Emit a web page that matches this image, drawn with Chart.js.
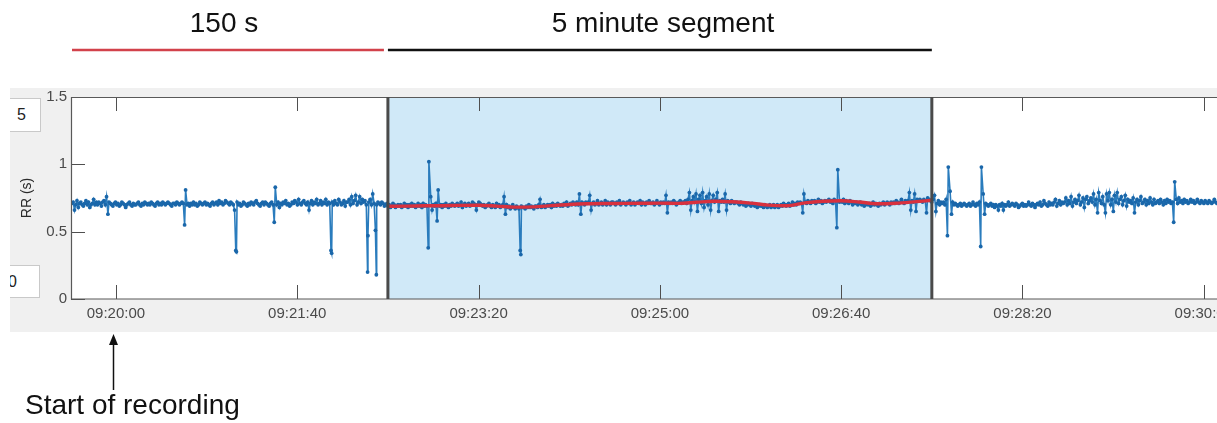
<!DOCTYPE html>
<html>
<head>
<meta charset="utf-8">
<title>RR tachogram – 5 minute segment</title>
<script src="https://cdn.jsdelivr.net/npm/chart.js@4.4.1/dist/chart.umd.min.js"></script>
<style>
  html, body { margin: 0; padding: 0; background: #fff; overflow: hidden; width: 1217px; height: 423px; }
  body { position: relative; font-family: "Liberation Sans", Arial, Helvetica, sans-serif; }
  #panel { position: absolute; left: 10px; top: 88px; width: 1207px; height: 244px; background: #f0f0f0; }
  #wrap { position: absolute; left: 0; top: 0; width: 1300px; height: 423px; }
  .note { position: absolute; font-size: 28px; line-height: 28px; color: #111; white-space: nowrap; }
  #clip { position: absolute; left: 10px; top: 0; width: 40px; height: 423px; overflow: hidden; }
  .limbox { position: absolute; box-sizing: border-box; background: #fff; border: 1px solid #c9c9c9;
            font-size: 16px; color: #222; white-space: nowrap; }
</style>
</head>
<body>
<div id="panel"></div>
<div id="clip">
  <div class="limbox" style="left:-6px; top:98px; width:37px; height:34px; line-height:32px; padding-left:12px;">5</div>
  <div class="limbox" style="left:-6px; top:265px; width:36px; height:33px; line-height:31px; padding-left:3px;">0</div>
</div>
<div id="wrap"><canvas id="rr" width="1300" height="423"></canvas></div>
<div class="note" style="left:124px; top:9px; width:200px; text-align:center;">150 s</div>
<div class="note" style="left:463px; top:9px; width:400px; text-align:center;">5 minute segment</div>
<div class="note" style="left:25px; top:391px;">Start of recording</div>

<script>
// ---- axis set-up -------------------------------------------------------
const xTickLabels = ['09:20:00', '09:21:40', '09:23:20', '09:25:00', '09:26:40', '09:28:20', '09:30:00'];
const yTickValues = [0, 0.5, 1, 1.5];
const yTickLabels = ['0', '0.5', '1', '1.5'];
const viewStart = '09:19:35.2';
const viewEnd = '09:30:31.0';

// ---- recording marks ----------------------------------------------------
const recordingStart = '09:20:00';
const segmentStart = '09:22:30';
const segmentEnd = '09:27:30';
const leadInStart = '09:19:35.7';

// RR intervals (s), beat by beat, before the analysed segment
const rrLeadIn = [
  .71,.72,.66,.70,.73,.68,.71,.72,.70,.69,
  .71,.73,.70,.72,.68,.70,.71,.74,.70,.72,
  .70,.72,.71,.69,.72,.73,.70,.76,.63,.72,
  .71,.70,.69,.71,.72,.70,.71,.69,.70,.72,
  .71,.70,.68,.70,.71,.72,.70,.69,.71,.70,
  .70,.71,.72,.70,.69,.71,.70,.72,.71,.70,
  .71,.70,.72,.71,.70,.69,.71,.72,.70,.71,
  .70,.72,.71,.70,.71,.72,.71,.70,.69,.71,
  .71,.70,.72,.71,.70,.71,.72,.71,.55,.81,.70,.71,
  .69,.71,.70,.72,.70,.71,.69,.70,.72,.71,
  .70,.71,.72,.70,.71,.70,.69,.71,.72,.70,
  .71,.72,.70,.73,.71,.72,.70,.71,.73,.72,
  .71,.70,.72,.71,.70,.66,.36,.35,.72,.70,
  .71,.69,.70,.72,.71,.70,.69,.71,.70,.72,
  .71,.70,.72,.73,.71,.70,.69,.71,.72,.70,
  .72,.71,.70,.69,.71,.72,.70,.57,.83,.70,.72,.68,
  .71,.70,.72,.71,.73,.70,.71,.69,.70,.72,
  .71,.73,.72,.70,.74,.71,.70,.72,.73,.71,
  .70,.72,.66,.71,.73,.70,.72,.71,.74,.70,
  .71,.73,.70,.72,.71,.74,.70,.72,.71,.36,.34,.72,.70,
  .73,.71,.70,.74,.72,.70,.71,.73,.69,.72,
  .72,.74,.70,.76,.71,.73,.77,.70,.72,.76,
  .71,.74,.72,.73,.70,.20,.47,.72,.74,.70,.78,.71,.51,.18,.70,.72,.71,
  .70,.72,.71,.69,.70,.71
];

// RR intervals (s) inside the 5 minute segment
const rrSegment = [
  .69,.70,.68,.69,.71,.70,.68,.69,.70,.69,
  .70,.68,.69,.71,.69,.70,.68,.70,.69,.71,
  .69,.70,.68,.69,.71,.69,.70,.68,.71,.69,.70,.69,.38,1.02,.76,.66,.70,.69,.71,.58,.81,.69,.70,
  .68,.70,.69,.71,.69,.68,.70,.69,.71,.70,
  .69,.70,.71,.69,.70,.72,.68,.70,.71,.69,
  .70,.71,.69,.70,.72,.71,.70,.66,.70,.72,
  .71,.70,.69,.70,.68,.69,.70,.71,.69,.68,
  .70,.69,.68,.71,.69,.70,.68,.69,.70,.76,.63,.70,
  .68,.69,.67,.68,.70,.68,.67,.69,.68,.67,.36,.33,.69,.68,
  .68,.67,.69,.68,.70,.68,.69,.68,.67,.69,
  .69,.68,.70,.74,.68,.69,.70,.68,.69,.70,
  .69,.70,.68,.71,.69,.70,.69,.71,.70,.69,
  .70,.69,.71,.70,.72,.69,.70,.71,.70,.72,
  .71,.70,.72,.70,.78,.63,.72,.71,.70,.72,
  .71,.72,.77,.66,.71,.72,.70,.71,.73,.70,
  .71,.72,.70,.71,.73,.70,.72,.71,.70,.72,
  .72,.71,.70,.72,.71,.73,.70,.71,.72,.71,
  .70,.72,.71,.73,.70,.71,.72,.70,.71,.72,
  .71,.73,.70,.72,.71,.70,.72,.71,.73,.71,
  .71,.72,.70,.71,.73,.71,.70,.72,.71,.72,.71,.77,.64,.72,.71,
  .72,.71,.73,.72,.70,.71,.72,.73,.71,.72,
  .72,.73,.71,.74,.79,.66,.73,.76,.72,.78,
  .65,.74,.77,.71,.79,.68,.73,.76,.70,.78,
  .66,.73,.77,.72,.74,.79,.65,.73,.72,.74,
  .72,.78,.66,.73,.72,.71,.73,.72,.71,.72,
  .72,.71,.70,.72,.71,.70,.71,.69,.70,.71,
  .70,.69,.71,.70,.69,.70,.68,.69,.70,.69,
  .69,.68,.70,.69,.68,.69,.70,.68,.69,.70,
  .68,.69,.70,.68,.69,.70,.69,.71,.70,.69,
  .70,.71,.69,.70,.72,.70,.71,.70,.72,.71,
  .72,.71,.64,.78,.72,.71,.73,.72,.71,.73,
  .72,.73,.71,.72,.74,.72,.73,.71,.72,.73,
  .72,.73,.74,.72,.73,.71,.74,.73,.53,.96,.72,.73,
  .72,.74,.71,.73,.72,.71,.73,.72,.70,.72,
  .71,.72,.70,.71,.72,.70,.71,.69,.70,.71,
  .70,.71,.69,.70,.72,.70,.71,.70,.69,.71,
  .70,.71,.72,.70,.71,.72,.71,.70,.72,.71,
  .72,.71,.73,.72,.71,.72,.74,.72,.71,.73,
  .72,.73,.79,.66,.73,.72,.78,.65,.74,.73,
  .74,.73,.72,.74,.73,.64,.75,.74,.73
];

// RR intervals (s) after the segment
const rrAfter = [
  .72,.74,.77,.65,.71,.73,.70,.72,.71,.72,.70,.74,.47,.98,.80,.63,.72,.70,
  .71,.70,.69,.70,.71,.69,.70,.71,.70,.69,
  .70,.71,.69,.70,.72,.70,.69,.71,.70,.72,.39,.98,.78,.63,.71,.70,
  .69,.70,.71,.69,.70,.68,.70,.69,.66,.70,
  .69,.71,.66,.70,.69,.70,.72,.69,.70,.71,
  .70,.69,.71,.70,.68,.69,.70,.71,.69,.70,
  .69,.70,.72,.70,.69,.71,.70,.68,.70,.71,
  .70,.72,.69,.70,.73,.71,.70,.69,.72,.70,
  .71,.70,.72,.74,.69,.71,.73,.70,.72,.71,
  .72,.75,.70,.73,.71,.76,.69,.72,.74,.71,
  .73,.77,.70,.72,.75,.68,.74,.76,.71,.73,
  .75,.72,.78,.70,.74,.64,.79,.73,.71,.76,
  .70,.64,.78,.73,.79,.70,.74,.65,.77,.72,
  .79,.71,.74,.76,.70,.73,.77,.69,.74,.72,
  .73,.71,.75,.64,.72,.74,.70,.73,.76,.71,
  .72,.74,.70,.73,.71,.75,.72,.70,.74,.71,
  .72,.73,.71,.74,.72,.70,.73,.71,.74,.72,.73,.71,.72,.57,.87,.74,.71,.75,
  .72,.73,.71,.74,.72,.73,.71,.72,.74,.72,
  .73,.71,.72,.74,.72,.71,.73,.72,.71,.73,
  .72,.71,.73,.72,.71,.72,.74,.72,.71,.72,
  .72,.73,.71,.72,.73,.72,.71,.73,.72,.71
];

// slow trend of RR across the segment: seconds after segment start, value (s)
const trendOffsets = [0, 10, 20, 30, 40, 50, 60, 70, 80, 90, 100, 110, 120, 130, 140, 150,
                      160, 170, 180, 190, 200, 210, 220, 230, 240, 250, 260, 270, 280, 290, 300];
const trendRR = [.689, .690, .692, .693, .695, .696, .690, .682, .684, .693, .702, .707, .709, .710, .711, .712,
                 .710, .718, .726, .722, .712, .697, .692, .714, .726, .730, .720, .707, .711, .721, .733];

// ---- helpers ----------------------------------------------------------
function toSec(hms) {
  const [h, m, s] = hms.split(':').map(Number);
  return h * 3600 + m * 60 + s;
}
function beatsFrom(start, rr) {
  const pts = [];
  let t = toSec(start);
  for (const v of rr) { pts.push({ x: t, y: v }); t += v; }
  return pts;
}

const beatPoints = [
  ...beatsFrom(leadInStart, rrLeadIn),
  ...beatsFrom(segmentStart, rrSegment),
  ...beatsFrom(segmentEnd, rrAfter)
];
const trendPoints = trendOffsets.map((o, i) => ({ x: toSec(segmentStart) + o, y: trendRR[i] }));

// ---- decorations: plot box, shaded segment, inner ticks, top bars, arrow ----
const decor = {
  id: 'decor',
  beforeDatasetsDraw(chart) {
    const { ctx, chartArea: a, scales: { x } } = chart;
    const s0 = x.getPixelForValue(toSec(segmentStart));
    const s1 = x.getPixelForValue(toSec(segmentEnd));
    ctx.save();
    ctx.fillStyle = '#ffffff';
    ctx.fillRect(a.left, a.top, a.right - a.left, a.bottom - a.top);
    ctx.fillStyle = '#d0e9f8';
    ctx.fillRect(s0, a.top, s1 - s0, a.bottom - a.top);
    ctx.restore();
  },
  afterDatasetsDraw(chart) {
    const { ctx, chartArea: a, scales: { x, y } } = chart;
    ctx.save();
    // inner tick marks
    ctx.strokeStyle = '#4f4f4f';
    ctx.lineWidth = 1;
    ctx.beginPath();
    x.ticks.forEach(t => {
      const px = Math.round(x.getPixelForValue(t.value)) + 0.5;
      ctx.moveTo(px, a.bottom); ctx.lineTo(px, a.bottom - 14);
      ctx.moveTo(px, a.top); ctx.lineTo(px, a.top + 14);
    });
    y.ticks.forEach(t => {
      const py = Math.round(y.getPixelForValue(t.value)) + 0.5;
      ctx.moveTo(a.left, py); ctx.lineTo(a.left + 14, py);
    });
    ctx.stroke();
    // plot box
    ctx.strokeStyle = '#595959';
    ctx.lineWidth = 1.2;
    ctx.beginPath();
    ctx.moveTo(a.right, a.top + 0.5); ctx.lineTo(a.left + 0.5, a.top + 0.5);
    ctx.lineTo(a.left + 0.5, a.bottom); ctx.lineTo(a.right, a.bottom);
    ctx.stroke();
    // segment boundaries
    ctx.strokeStyle = '#4a4a4a';
    ctx.lineWidth = 3;
    ctx.beginPath();
    [segmentStart, segmentEnd].forEach(s => {
      const px = x.getPixelForValue(toSec(s));
      ctx.moveTo(px, a.top); ctx.lineTo(px, a.bottom);
    });
    ctx.stroke();
    ctx.restore();
  },
  afterDraw(chart) {
    const { ctx, chartArea: a, scales: { x } } = chart;
    const s0 = x.getPixelForValue(toSec(segmentStart));
    const s1 = x.getPixelForValue(toSec(segmentEnd));
    ctx.save();
    ctx.lineWidth = 2.5;
    ctx.strokeStyle = '#d2424b';
    ctx.beginPath(); ctx.moveTo(a.left + 1, 50); ctx.lineTo(s0 - 4, 50); ctx.stroke();
    ctx.strokeStyle = '#111111';
    ctx.beginPath(); ctx.moveTo(s0, 50); ctx.lineTo(s1, 50); ctx.stroke();
    // arrow to the start of the recording
    const ax = Math.round(x.getPixelForValue(toSec(recordingStart))) - 2.5;
    ctx.strokeStyle = '#111111';
    ctx.fillStyle = '#111111';
    ctx.lineWidth = 1.5;
    ctx.beginPath(); ctx.moveTo(ax, 390); ctx.lineTo(ax, 342); ctx.stroke();
    ctx.beginPath(); ctx.moveTo(ax, 334); ctx.lineTo(ax - 4.5, 345); ctx.lineTo(ax + 4.5, 345); ctx.closePath(); ctx.fill();
    ctx.restore();
  }
};

const tickFont = { family: '"Liberation Sans", Arial, sans-serif', size: 15 };

new Chart(document.getElementById('rr'), {
  type: 'line',
  data: {
    datasets: [
      {
        label: 'trend',
        data: trendPoints,
        borderColor: '#d8313e',
        borderWidth: 3.4,
        pointRadius: 0,
        tension: 0.4,
        cubicInterpolationMode: 'monotone',
        order: 0
      },
      {
        label: 'RR',
        data: beatPoints,
        borderColor: '#2a7cbd',
        borderWidth: 1.6,
        pointRadius: 1.9,
        pointBorderWidth: 0,
        pointBackgroundColor: '#1a67aa',
        tension: 0,
        order: 1
      }
    ]
  },
  options: {
    responsive: false,
    animation: false,
    devicePixelRatio: 1,
    layout: { padding: { top: 97, left: 0, right: 40, bottom: 94 }, autoPadding: false },
    plugins: { legend: { display: false }, tooltip: { enabled: false } },
    scales: {
      x: {
        type: 'linear',
        min: toSec(viewStart),
        max: toSec(viewEnd),
        grid: { display: false, drawTicks: false },
        border: { display: false },
        afterBuildTicks: s => { s.ticks = xTickLabels.map(l => ({ value: toSec(l) })); },
        afterFit: s => { s.height = 30; },
        ticks: {
          padding: 6,
          color: '#4a4a4a',
          font: tickFont,
          maxRotation: 0,
          autoSkip: false,
          callback: (v, i) => xTickLabels[i]
        }
      },
      y: {
        min: 0,
        max: 1.5,
        grid: { display: false, drawTicks: false },
        border: { display: false },
        afterBuildTicks: s => { s.ticks = yTickValues.map(v => ({ value: v })); },
        afterFit: s => { s.width = 71; },
        ticks: {
          padding: 4,
          color: '#4a4a4a',
          font: tickFont,
          autoSkip: false,
          callback: (v, i) => yTickLabels[i]
        },
        title: {
          display: true,
          text: 'RR (s)',
          color: '#2a2a2a',
          font: { family: '"Liberation Sans", Arial, sans-serif', size: 14 },
          padding: { top: 19, bottom: 0 }
        }
      }
    }
  },
  plugins: [decor]
});
</script>
</body>
</html>
